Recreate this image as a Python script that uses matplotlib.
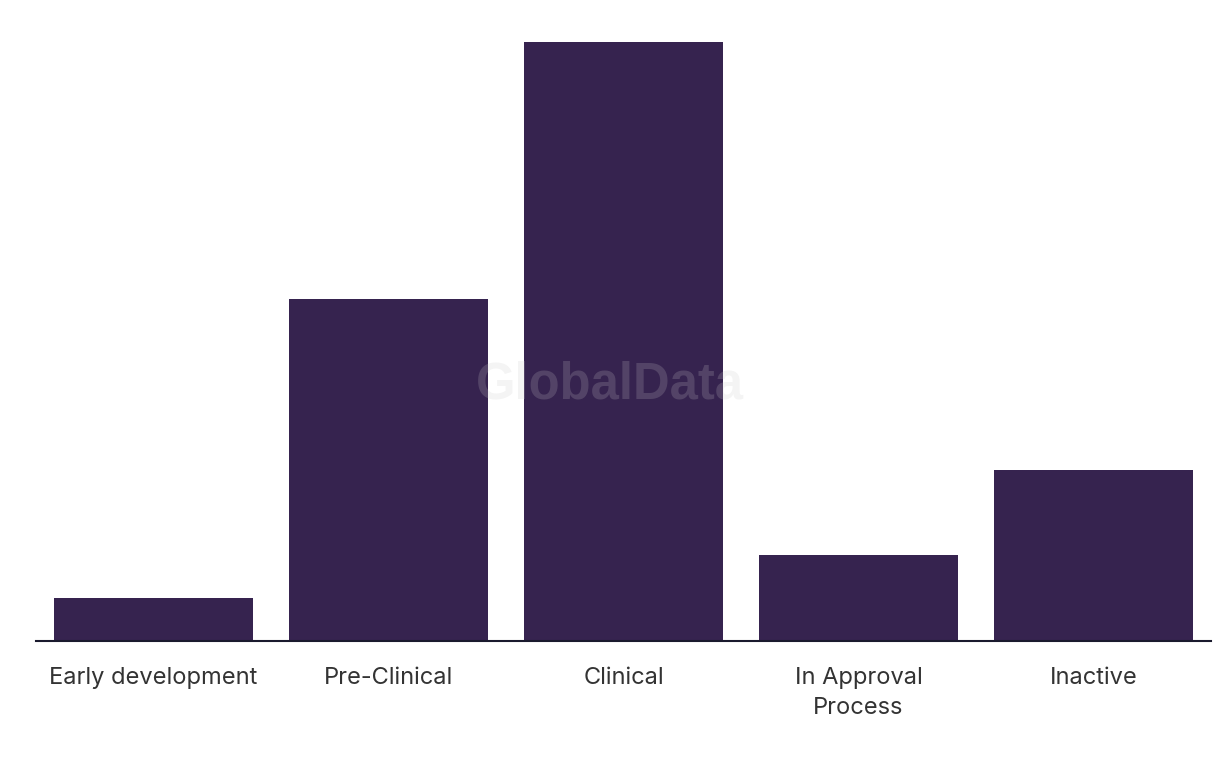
import matplotlib.pyplot as plt
import numpy as np

# Pipeline stage counts
stages = ['Early development', 'Pre-Clinical', 'Clinical', 'In Approval\nProcess', 'Inactive']
counts = [1, 8, 14, 2, 4]

bar_color = '#36234f'

fig = plt.figure(figsize=(12.2, 7.66), dpi=100)
ax = fig.add_axes([36 / 1220, 1 - 641 / 766, 1175 / 1220, 599 / 766])

x = np.arange(len(stages))
ax.bar(x, counts, width=0.85, color=bar_color, zorder=2)

ax.set_xlim(-0.5, len(stages) - 0.5)
ax.set_ylim(0, 14)
ax.set_xticks(x)
ax.set_xticklabels(stages, fontsize=17, color='#333333', family='Inter', linespacing=1.45)
ax.tick_params(axis='x', length=0, pad=19)
ax.set_yticks([])

for side in ['top', 'right', 'left']:
    ax.spines[side].set_visible(False)
ax.spines['bottom'].set_color('#1a1a2e')
ax.spines['bottom'].set_linewidth(1.5)
ax.spines['bottom'].set_zorder(3)

# watermark
fig.text(610 / 1220, 1 - 385 / 766, 'GlobalData', fontsize=36.5, fontweight='bold',
         family='Liberation Sans', color='#c8c8c8', alpha=0.2, ha='center', va='center', zorder=5)

fig.savefig('out.png', dpi=100)
